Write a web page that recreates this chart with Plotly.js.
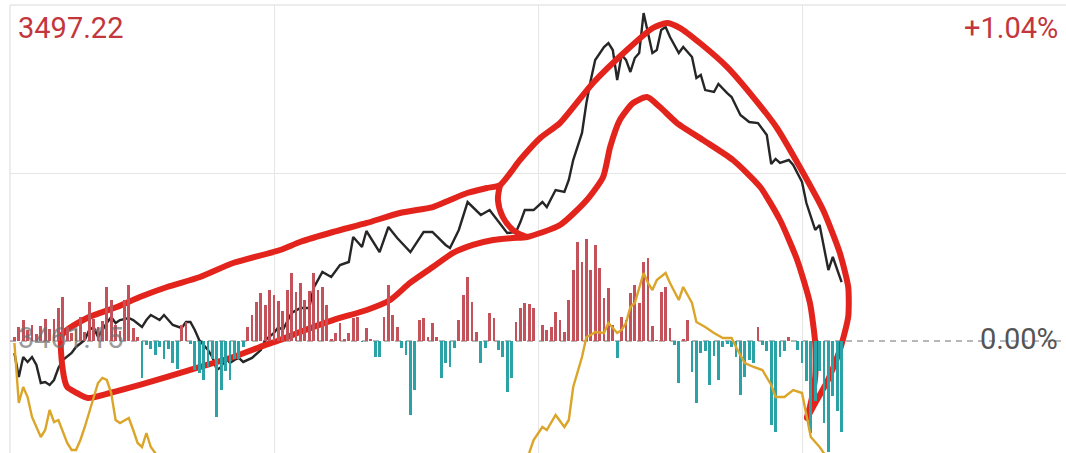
<!DOCTYPE html>
<html>
<head>
<meta charset="utf-8">
<script src="https://cdn.plot.ly/plotly-3.0.1.min.js"></script>
<style>html,body{margin:0;padding:0;background:#fff;}#chart{width:1066px;height:453px;}</style>
</head>
<body>
<div id="chart"></div>
<script>
// ---- data ----
const basePrice = 3461.15;
const topPrice = 3497.22;
const topPctLabel = "+1.04%";
const zeroPctLabel = "0.00%";

// price line (minute of session, price)
const priceMinutes = [1,2,3,4,5,6,7,8,9,10,11,12,14,15,17,18,19,20,22,23,24,25,27,28,30,31,32,34,35,36,37,39,40,41,42,43,45,46,47,48,49,50,51,52,53,55,57,58,60,61,62,64,66,68,69,71,73,75,77,78,80,81,84,86,88,91,94,96,99,100,102,104,107,109,113,115,116,117,119,121,122,124,126,127,128,130,131,132,133,135,136,137,138,139,140,141,142,143,144,145,146,147,148,149,150,152,153,155,156,157,158,160,161,163,164,166,168,170,172,173,174,175,177,178,180,181,183,184,186,187,189];
const priceValues = [3459.86,3457.29,3459.43,3458.90,3459.43,3458.57,3456.64,3456.75,3456.43,3456.96,3458.25,3459.11,3459.86,3460.51,3461.26,3462.33,3462.65,3461.58,3463.08,3463.73,3463.08,3463.40,3463.62,3463.40,3462.65,3463.40,3463.94,3463.40,3463.94,3463.40,3462.87,3462.55,3463.19,3463.19,3462.33,3461.26,3460.18,3459.43,3458.04,3458.36,3459.33,3458.79,3459.11,3459.33,3458.90,3459.33,3460.18,3461.26,3462.01,3462.65,3462.33,3464.16,3464.69,3464.69,3466.84,3468.56,3468.02,3469.31,3469.63,3472.31,3471.24,3472.96,3470.70,3473.39,3472.21,3470.70,3472.85,3472.85,3471.46,3471.13,3473.07,3476.07,3474.68,3475.21,3472.74,3472.85,3473.92,3475.21,3475.21,3476.07,3475.53,3477.36,3477.15,3478.43,3480.58,3483.48,3486.70,3489.17,3491.32,3492.71,3493.14,3492.39,3489.17,3491.85,3491.32,3490.03,3491.53,3492.07,3496.36,3494.21,3492.07,3492.39,3494.54,3494.86,3493.78,3492.07,3492.71,3491.64,3489.38,3489.71,3488.09,3487.88,3488.74,3487.77,3487.34,3485.41,3484.66,3484.55,3483.26,3480.15,3480.69,3480.26,3480.58,3480.04,3478.22,3475.96,3473.07,3473.60,3468.77,3470.17,3467.48];

// per-minute bar indicator (index = minute)
const barValues = [0,4,14,21,11,16,7,15,22,12,22,33,44,14,8,12,24,9,39,22,14,20,54,41,16,10,41,56,13,4,
 -37,-4,-8,-14,-6,-18,-8,-22,-28,16,19,-3,-29,-32,-39,-26,-18,-76,-49,-30,-39,-18,-18,-6,14,26,39,48,36,51,
 46,40,30,51,68,49,58,41,50,68,51,54,36,2,8,18,2,8,23,24,-1,13,2,-16,-16,24,56,26,14,-7,
 -14,-74,-49,21,23,4,18,4,-37,-22,-26,-7,21,46,64,39,9,-22,-7,28,23,-9,-16,-51,-37,19,33,38,37,33,
 0,16,11,14,29,21,9,41,71,99,79,102,71,96,73,43,53,16,-17,24,21,48,56,38,79,83,15,1,49,54,
 13,-4,-42,2,21,-31,-62,-12,-10,-44,-15,-39,-6,-3,-6,-16,-54,-36,-19,-22,14,-4,-10,-84,-91,-16,-10,4,0,-9,
 -22,-40,-92,-60,-30,-82,-111,-55,-70,-91];

// yellow indicator line
const yellowMinutes = [1,2,3,4,5,7,8,9,10,11,13,14,15,16,17,19,20,21,22,23,24,25,27,28,29,30,31,32,33,36,45,60,75,90,100,110,115,118,119,121,122,124,126,127,128,130,131,132,133,135,136,137,138,139,140,141,142,144,145,146,147,149,150,152,153,155,156,158,160,162,164,165,167,169,171,173,174,176,178,180,181,182,184,185,187,189];
const yellowValues = [-2,-62,-46,-56,-76,-96,-89,-69,-81,-79,-102,-109,-109,-99,-86,-56,-42,-37,-39,-52,-79,-82,-77,-89,-102,-106,-92,-106,-112,-125,-150,-170,-175,-170,-160,-140,-125,-112,-99,-86,-89,-74,-86,-79,-46,-16,4,6,9,8,18,13,8,11,18,34,38,68,58,51,61,68,58,41,54,38,19,14,8,3,3,-6,-22,-26,-29,-44,-56,-56,-49,-52,-76,-96,-106,-112,-125,-135];

// hand-drawn red outline (minute, price)
const loopMinutes = [11.8,17.5,24.3,29.5,35.7,43.2,50.7,61.4,65.9,73.4,81.1,88.6,96.1,100,103.9,108.4,111.4,115.9,120.5,125,132.5,140.2,146.1,149.3,152.3,156.8,163,168.9,174.3,179.5,184.8,188.6,190.5,190.5,188.6,185.9,183,181.1,
 181.8,183,183,181.8,178.9,175,170.5,164.3,157.5,151.6,147.7,144.8,141.6,138.6,136.4,134.8,131.1,125,117.5,114.3,109.8,105.2,100.7,96.1,90.9,86.4,81.1,73.4,65.9,61.4,56.8,50.7,43.2,35.7,29.5,22.7,17.7,15.2,13,12,11.8];
const loopPrices = [3461.79,3463.62,3464.80,3465.87,3466.95,3468.02,3469.52,3470.92,3471.78,3472.85,3473.82,3474.89,3475.53,3476.29,3477.04,3477.57,3477.90,3480.58,3482.94,3484.55,3488.85,3492.39,3494.75,3495.29,3494.75,3493.14,3490.56,3487.34,3484.02,3479.83,3475.21,3470.60,3466.95,3463.73,3460.18,3456.96,3454.49,3452.88,
 3454.06,3457.29,3460.94,3465.23,3469.85,3474.14,3477.68,3480.58,3482.73,3484.55,3486.27,3487.34,3486.70,3484.87,3481.98,3478.76,3476.29,3473.60,3472.31,3472.21,3471.99,3471.46,3470.60,3469.09,3467.38,3465.55,3464.48,3463.40,3462.12,3461.26,3460.51,3459.43,3458.36,3457.29,3456.43,3455.57,3455.03,3455.57,3456.21,3458.04,3461.79];
const dividerMinutes = [111.4,110.9,112,114.3,117.5];
const dividerPrices = [3477.90,3476.29,3474.46,3473.07,3472.31];

// ---- chart ----
const barColors = barValues.map(v => v >= 0 ? '#c4525b' : '#2ba3a6');
const barX = barValues.map((v, i) => i);
const pricePerPx = (topPrice - basePrice) / 336;
const bottomPrice = basePrice - 112 * pricePerPx;

const traces = [
  {type:'bar', x: barX, y: barValues, yaxis:'y2', marker:{color: barColors, line:{width:0}}, width:0.62, hoverinfo:'skip'},
  {type:'scatter', mode:'lines', x: yellowMinutes, y: yellowValues, yaxis:'y2', line:{color:'#dba52a', width:2.4}, hoverinfo:'skip'},
  {type:'scatter', mode:'lines', x: priceMinutes, y: priceValues, line:{color:'#262626', width:2.4}, hoverinfo:'skip'},
  {type:'scatter', mode:'lines', x: loopMinutes, y: loopPrices, line:{color:'#e3241c', width:6, shape:'spline', smoothing:0.6}, hoverinfo:'skip'},
  {type:'scatter', mode:'lines', x: dividerMinutes, y: dividerPrices, line:{color:'#e3241c', width:6, shape:'spline'}, hoverinfo:'skip'}
];

const redText = '#c2363c';
const gridCol = '#e6e6e6';
const layout = {
  width:1066, height:453,
  margin:{l:10, r:0, t:5, b:0, pad:0},
  paper_bgcolor:'#fff', plot_bgcolor:'#fff',
  showlegend:false,
  bargap:0,
  xaxis:{range:[0,240], tickmode:'linear', tick0:0, dtick:60, showgrid:true, gridcolor:gridCol, gridwidth:1,
         showticklabels:false, zeroline:false, showline:false, ticks:''},
  yaxis:{range:[bottomPrice, topPrice], tickmode:'array', tickvals:[(basePrice+topPrice)/2],
         showgrid:true, gridcolor:gridCol, showticklabels:false, zeroline:false, showline:false, ticks:''},
  yaxis2:{overlaying:'y', range:[-112, 336], showgrid:false, showticklabels:false, zeroline:false, ticks:''},
  shapes:[
    {type:'line', xref:'paper', x0:0, x1:1, yref:'paper', y0:1, y1:1, line:{color:gridCol, width:1.5}, layer:'below'},
    {type:'line', xref:'paper', x0:0, x1:0, yref:'paper', y0:0, y1:1, line:{color:gridCol, width:1.5}, layer:'below'},
    {type:'line', xref:'paper', x0:0, x1:1, yref:'y', y0:basePrice, y1:basePrice, line:{color:'#a0a0a0', width:1.5, dash:'6px,5px'}, layer:'below'}
  ],
  annotations:[
    {text: topPrice.toFixed(2), xref:'paper', x:0, xanchor:'left', xshift:6, yref:'paper', y:1, yanchor:'top', yshift:-4,
     showarrow:false, font:{family:'Roboto', size:29, color:redText}},
    {text: topPctLabel, xref:'paper', x:1, xanchor:'right', xshift:-6, yref:'paper', y:1, yanchor:'top', yshift:-4,
     showarrow:false, font:{family:'Roboto', size:29, color:redText}},
    {text: zeroPctLabel, xref:'paper', x:1, xanchor:'right', xshift:-6, yref:'y', y:basePrice, yanchor:'middle', yshift:2,
     showarrow:false, font:{family:'Roboto', size:29, color:'#555'}},
    {text: basePrice.toFixed(2), xref:'paper', x:0, xanchor:'left', xshift:6, yref:'y', y:basePrice, yanchor:'middle', yshift:3,
     showarrow:false, font:{family:'Roboto', size:29, color:'rgba(110,110,110,0.7)'}}
  ]
};

Plotly.newPlot('chart', traces, layout, {staticPlot:true, displayModeBar:false});
</script>
</body>
</html>
